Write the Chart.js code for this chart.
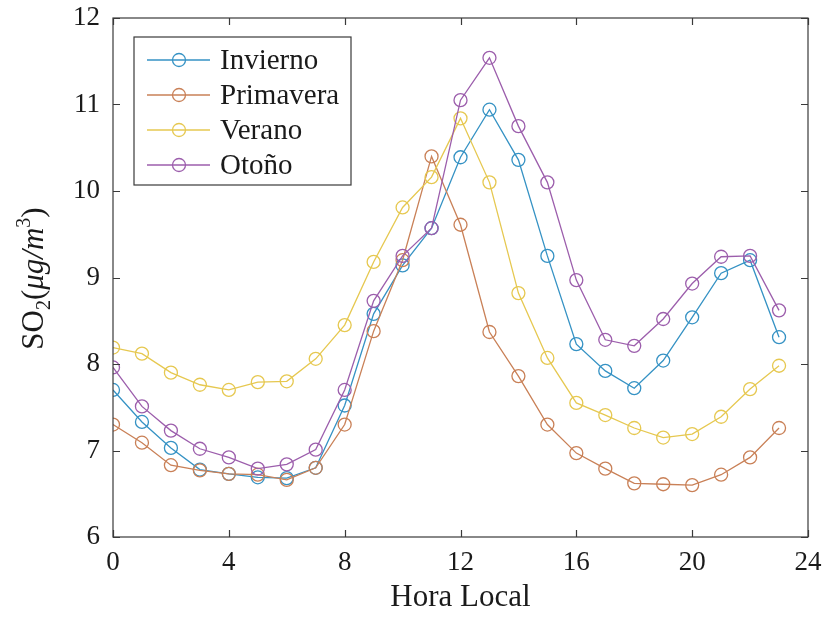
<!DOCTYPE html>
<html>
<head>
<meta charset="utf-8">
<script src="https://cdn.jsdelivr.net/npm/chart.js@4/dist/chart.umd.min.js"></script>
<style>
  html, body { margin: 0; padding: 0; background: #fff; }
  #wrap { width: 828px; height: 619px; }
</style>
</head>
<body>
<div id="wrap"><canvas id="so2Chart" width="828" height="619"></canvas></div>
<script>
// hourly SO2 by season
const hours = [0,1,2,3,4,5,6,7,8,9,10,11,12,13,14,15,16,17,18,19,20,21,22,23];
const invierno  = [7.70,7.33,7.03,6.78,6.73,6.69,6.68,6.80,7.52,8.58,9.14,9.57,10.39,10.94,10.36,9.25,8.23,7.92,7.72,8.04,8.54,9.05,9.20,8.31];
const primavera = [7.30,7.09,6.83,6.77,6.73,6.72,6.66,6.80,7.30,8.38,9.20,10.40,9.61,8.37,7.86,7.30,6.97,6.79,6.62,6.61,6.60,6.72,6.92,7.26];
const verano    = [8.19,8.12,7.90,7.76,7.70,7.79,7.80,8.06,8.45,9.18,9.81,10.16,10.84,10.10,8.82,8.07,7.55,7.41,7.26,7.15,7.19,7.39,7.71,7.98];
const otono     = [7.96,7.51,7.23,7.02,6.92,6.79,6.84,7.01,7.70,8.73,9.25,9.57,11.05,11.54,10.75,10.10,8.97,8.28,8.21,8.52,8.93,9.24,9.25,8.62];

const seriesNames  = ['Invierno', 'Primavera', 'Verano', 'Otoño'];
const seriesValues = [invierno, primavera, verano, otono];
const seriesColors = ['#3592c4', '#c98057', '#e6c850', '#9c5eac'];

const xTicks = [0, 4, 8, 12, 16, 20, 24];
const yTicks = [6, 7, 8, 9, 10, 11, 12];

const FONT = '"Liberation Serif", "Times New Roman", serif';

const datasets = seriesValues.map((vals, i) => ({
    label: seriesNames[i],
    data: hours.map((h, k) => ({ x: h, y: vals[k] })),
    borderColor: seriesColors[i],
    backgroundColor: 'rgba(0,0,0,0)',
    borderWidth: 1.3,
    pointStyle: 'circle',
    pointRadius: 6.5,
    pointBorderWidth: 1.3,
    pointBackgroundColor: 'rgba(0,0,0,0)',
    pointBorderColor: seriesColors[i],
    tension: 0,
    order: seriesValues.length - i   // last season on top, like the original
}));

// box, inward ticks, legend and y title
const matlabLook = {
    id: 'matlabLook',
    afterDraw(chart) {
        const { ctx, chartArea: a, scales: { x, y } } = chart;
        ctx.save();
        ctx.strokeStyle = '#3a3a3a';
        ctx.lineWidth = 1.2;
        ctx.strokeRect(a.left, a.top, a.right - a.left, a.bottom - a.top);

        const tl = 7;
        ctx.beginPath();
        xTicks.forEach(v => {
            const px = Math.round(x.getPixelForValue(v)) + 0.5;
            ctx.moveTo(px, a.bottom); ctx.lineTo(px, a.bottom - tl);
            ctx.moveTo(px, a.top); ctx.lineTo(px, a.top + tl);
        });
        yTicks.forEach(v => {
            const py = Math.round(y.getPixelForValue(v)) + 0.5;
            ctx.moveTo(a.left, py); ctx.lineTo(a.left + tl, py);
            ctx.moveTo(a.right, py); ctx.lineTo(a.right - tl, py);
        });
        ctx.stroke();

        // legend
        const lx = a.left + 21, ly = a.top + 19, lw = 217, lh = 148;
        ctx.fillStyle = '#fff';
        ctx.fillRect(lx, ly, lw, lh);
        ctx.strokeStyle = '#3a3a3a';
        ctx.lineWidth = 1.2;
        ctx.strokeRect(lx, ly, lw, lh);
        ctx.font = '29px ' + FONT;
        ctx.textBaseline = 'middle';
        ctx.textAlign = 'left';
        seriesNames.forEach((name, i) => {
            const cy = ly + 23 + i * 35;
            ctx.strokeStyle = seriesColors[i];
            ctx.lineWidth = 1.3;
            ctx.beginPath();
            ctx.moveTo(lx + 13, cy); ctx.lineTo(lx + 76, cy);
            ctx.stroke();
            ctx.beginPath();
            ctx.arc(lx + 45, cy, 6.5, 0, Math.PI * 2);
            ctx.stroke();
            ctx.fillStyle = '#1a1a1a';
            ctx.fillText(name, lx + 86, cy + 1);
        });

        // y title with sub/superscript
        const cx = 35, cyT = (a.top + a.bottom) / 2 + 1;
        ctx.translate(cx, cyT);
        ctx.rotate(-Math.PI / 2);
        const parts = [
            { t: 'SO', f: '31px ' + FONT, dy: 0 },
            { t: '2', f: '20px ' + FONT, dy: 7 },
            { t: '(', f: '31px ' + FONT, dy: 0 },
            { t: 'μg/m', f: 'italic 31px ' + FONT, dy: 0 },
            { t: '3', f: '20px ' + FONT, dy: -13 },
            { t: ')', f: '31px ' + FONT, dy: 0 }
        ];
        let total = 0;
        parts.forEach(p => { ctx.font = p.f; p.w = ctx.measureText(p.t).width; total += p.w; });
        let px = -total / 2;
        ctx.fillStyle = '#1a1a1a';
        ctx.textBaseline = 'alphabetic';
        parts.forEach(p => {
            ctx.font = p.f;
            ctx.fillText(p.t, px, 8 + p.dy);
            px += p.w;
        });
        ctx.restore();
    }
};

new Chart(document.getElementById('so2Chart').getContext('2d'), {
    type: 'line',
    data: { datasets },
    options: {
        responsive: false,
        animation: false,
        layout: { padding: { top: 18, right: 20, left: 0, bottom: 0 } },
        plugins: {
            legend: { display: false },
            tooltip: { enabled: false }
        },
        scales: {
            x: {
                type: 'linear',
                min: 0,
                max: 24,
                afterBuildTicks: s => { s.ticks = xTicks.map(v => ({ value: v })); },
                afterFit: s => { s.height = 82; s.paddingLeft = 0; s.paddingRight = 0; },
                grid: { display: false },
                border: { display: false },
                ticks: { font: { family: FONT, size: 27 }, color: '#1a1a1a', padding: 2, maxRotation: 0 },
                title: { display: true, text: 'Hora Local', font: { family: FONT, size: 31 }, color: '#1a1a1a', padding: { top: 0, bottom: 3 } }
            },
            y: {
                min: 6,
                max: 12,
                afterBuildTicks: s => { s.ticks = yTicks.map(v => ({ value: v })); },
                afterFit: s => { s.width = 113; s.paddingTop = 0; s.paddingBottom = 0; },
                grid: { display: false },
                border: { display: false },
                ticks: { font: { family: FONT, size: 27 }, color: '#1a1a1a', padding: 5 }
            }
        }
    },
    plugins: [matlabLook]
});
</script>
</body>
</html>
